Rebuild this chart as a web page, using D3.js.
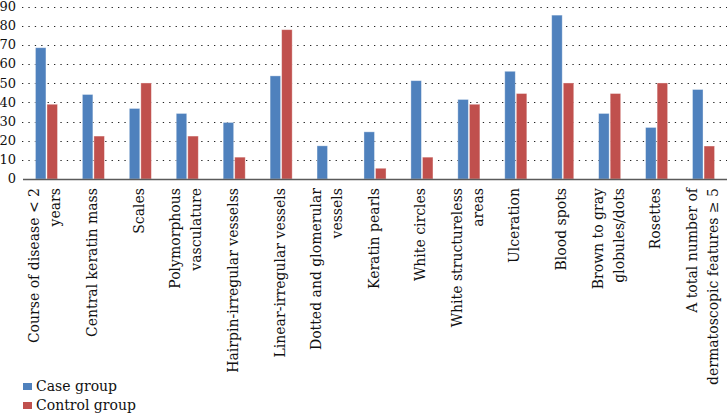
<!DOCTYPE html>
<html><head><meta charset="utf-8">
<script src="https://cdn.jsdelivr.net/npm/d3@7"></script>
<style>body{margin:0;background:#fff}svg{display:block}
svg text{font-family:"DejaVu Serif","Liberation Serif",serif;}</style>
</head><body>
<svg id="chart" width="727" height="416"></svg>
<script>
const categories = [
  ["Course of disease < 2", "years"],
  ["Central keratin mass"],
  ["Scales"],
  ["Polymorphous", "vasculature"],
  ["Hairpin-irregular vesselss"],
  ["Linear-irregular vessels"],
  ["Dotted and glomerular", "vessels"],
  ["Keratin pearls"],
  ["White circles"],
  ["White structureless", "areas"],
  ["Ulceration"],
  ["Blood spots"],
  ["Brown to gray", "globules/dots"],
  ["Rosettes"],
  ["A total number of", "dermatoscopic features \u2265 5"]
];
const caseGroup    = [68.5, 44.1, 36.8, 34.2, 29.5, 53.8, 17.3, 24.6, 51.3, 41.5, 56.2, 85.5, 34.2, 26.9, 46.7];
const controlGroup = [39.0, 22.4, 50.1, 22.4, 11.4, 77.9, 0, 5.6, 11.4, 39.0, 44.6, 50.1, 44.6, 50.1, 17.2];
const seriesNames = ["Case group", "Control group"];
const seriesColors = ["#4F81BD", "#C0504D"];
const yTicks = [0, 10, 20, 30, 40, 50, 60, 70, 80, 90];

const svg = d3.select("#chart");
const mLeft = 23, mRight = 727, mTop = 6.5, mBottom = 179;

const idx = d3.range(categories.length);
const x0 = d3.scaleBand().domain(idx).range([mLeft, mRight]).paddingInner(0.53).paddingOuter(0.265);
const x1 = d3.scaleBand().domain([0, 1]).range([0, x0.bandwidth()]).paddingInner(0.09);
const y = d3.scaleLinear().domain([0, 90]).range([mBottom, mTop]);

svg.append("g").selectAll("line").data(yTicks.filter(t => t > 0)).join("line")
  .attr("x1", 22).attr("x2", mRight)
  .attr("y1", d => Math.round(y(d)) + 0.5).attr("y2", d => Math.round(y(d)) + 0.5)
  .attr("stroke", "#222").attr("stroke-width", 1.2).attr("stroke-dasharray", "1.3,5.1");

svg.append("g").selectAll("text").data(yTicks).join("text")
  .attr("x", 16).attr("y", d => y(d)).attr("dy", "0.34em")
  .attr("text-anchor", "end").attr("font-size", 13).attr("fill", "#111")
  .text(d => d);

const series = [caseGroup, controlGroup];
series.forEach((vals, s) => {
  svg.append("g").selectAll("rect").data(idx).join("rect")
    .attr("x", i => x0(i) + x1(s))
    .attr("width", x1.bandwidth())
    .attr("y", i => y(vals[i]))
    .attr("height", i => y(0) - y(vals[i]))
    .attr("fill", seriesColors[s])
    .attr("stroke", "#ffffff").attr("stroke-opacity", 0.45).attr("stroke-width", 0.8);
});

svg.append("line").attr("x1", mLeft).attr("x2", mRight)
  .attr("y1", mBottom + 0.5).attr("y2", mBottom + 0.5)
  .attr("stroke", "#5a5a5a").attr("stroke-width", 1.6);

const lineH = 21;
const lab = svg.append("g").selectAll("text").data(idx).join("text")
  .attr("font-size", 14).attr("fill", "#111")
  .attr("text-anchor", "end")
  .attr("transform", i => {
    const cx = x0(i) + x0.bandwidth() / 2;
    const n = categories[i].length;
    const bx = cx - (n - 1) * lineH / 2 + 3.5;
    return `translate(${bx},188) rotate(-90)`;
  });
lab.selectAll("tspan").data(i => categories[i]).join("tspan")
  .attr("x", 0).attr("y", (d, j) => j * lineH)
  .text(d => d);

const leg = svg.append("g");
seriesNames.forEach((name, s) => {
  const yy = 383 + s * 19;
  leg.append("rect").attr("x", 23).attr("y", yy).attr("width", 9).attr("height", 7).attr("fill", seriesColors[s]);
  leg.append("text").attr("x", 36).attr("y", yy + 8).attr("font-size", 14).attr("fill", "#111").text(name);
});
</script>
</body></html>
